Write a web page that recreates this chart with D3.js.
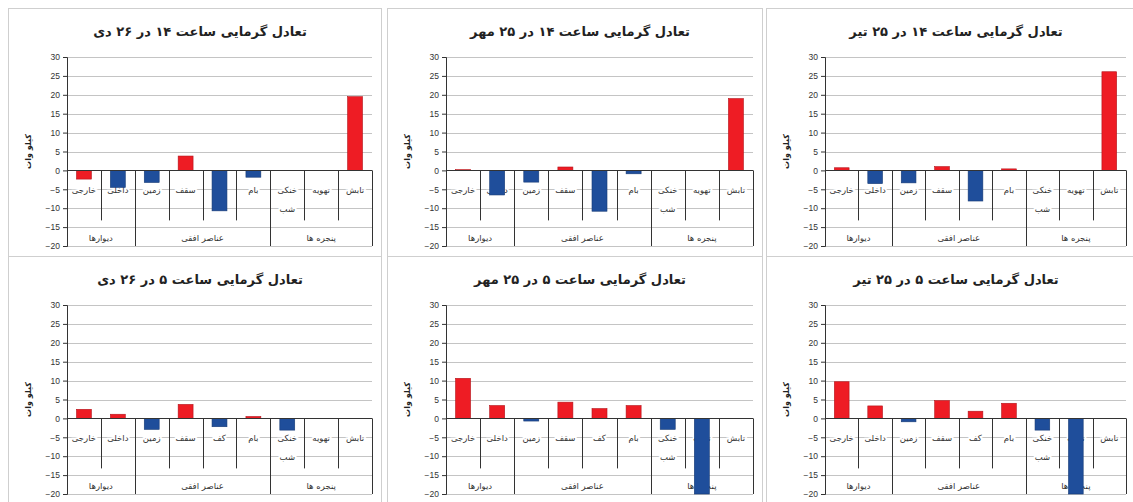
<!DOCTYPE html>
<html>
<head>
<meta charset="utf-8">
<script src="https://cdnjs.cloudflare.com/ajax/libs/d3/7.8.5/d3.min.js"></script>
<style>
  body { margin: 0; background: #fff; }
  svg { display: block; }
</style>
</head>
<body>
<div id="chart"></div>
<script>
// categories, left to right as drawn
const categories = ["خارجی", "داخلی", "زمین", "سقف", "کف", "بام", "خنکی شب", "تهویه", "تابش"];
const groupNames = ["دیوارها", "عناصر افقی", "پنجره ها"];
const groupSizes = [2, 4, 3];
const yTicks = [30, 25, 20, 15, 10, 5, 0, -5, -10, -15, -20];
const yLabel = "کیلو وات";

// panel titles (row by row, left to right)
const titles = [
  "تعادل گرمایی ساعت ۱۴ در ۲۶ دی",
  "تعادل گرمایی ساعت ۱۴ در ۲۵ مهر",
  "تعادل گرمایی ساعت ۱۴ در ۲۵ تیر",
  "تعادل گرمایی ساعت ۵ در ۲۶ دی",
  "تعادل گرمایی ساعت ۵ در ۲۵ مهر",
  "تعادل گرمایی ساعت ۵ در ۲۵ تیر"
];

// values in kW
const dey14  = [-2.3, -4.5, -3.2, 3.8, -10.7, -1.8, 0, 0, 19.5];
const mehr14 = [0.2, -6.5, -3.1, 0.9, -10.8, -0.9, 0, 0, 19.0];
const tir14  = [0.7, -3.5, -3.3, 1.0, -8.1, 0.4, 0, 0, 26.1];
const dey5   = [2.4, 1.1, -2.9, 3.7, -2.2, 0.5, -3.1, 0, 0];
const mehr5  = [10.6, 3.4, -0.7, 4.3, 2.6, 3.4, -2.9, -20, 0];
const tir5   = [9.7, 3.3, -0.9, 4.7, 1.9, 4.0, -3.1, -20, 0];

// g = gain (red), l = loss (blue)
const dey14Kind  = ["g", "l", "l", "g", "l", "l", "g", "g", "g"];
const mehr14Kind = ["g", "l", "l", "g", "l", "l", "g", "g", "g"];
const tir14Kind  = ["g", "l", "l", "g", "l", "g", "g", "g", "g"];
const dey5Kind   = ["g", "g", "l", "g", "l", "g", "l", "g", "g"];
const mehr5Kind  = ["g", "g", "l", "g", "g", "g", "l", "l", "g"];
const tir5Kind   = ["g", "g", "l", "g", "g", "g", "l", "l", "g"];

const series = [dey14, mehr14, tir14, dey5, mehr5, tir5];
const kinds = [dey14Kind, mehr14Kind, tir14Kind, dey5Kind, mehr5Kind, tir5Kind];

const W = 1133, H = 502;
const colX = [8, 387, 766], colW = [374, 376, 370];
const rowY = [8, 256], rowH = 248;
const fill = { g: "#ee1c24", l: "#1f4e9b" };
const edge = { g: "#b3131a", l: "#163a75" };
const fa = "'DejaVu Sans', sans-serif";

const svg = d3.select("#chart").append("svg")
  .attr("width", W).attr("height", H);

series.forEach(function(vals, i) {
  const px = colX[i % 3], pw = colW[i % 3];
  const py = rowY[Math.floor(i / 3)];
  const g = svg.append("g");

  // panel frame
  g.append("rect")
    .attr("x", px + 0.5).attr("y", py + 0.5)
    .attr("width", pw - 1).attr("height", rowH + 10)
    .attr("fill", "#fff").attr("stroke", "#cfcfcf");

  const left = px + 59, right = px + pw - 10;
  const y = d3.scaleLinear().domain([-20, 30]).range([py + 238, py + 49]);
  const x = d3.scaleBand().domain(categories).range([left, right]).paddingInner(0).paddingOuter(0);
  const y0 = y(0);

  // title
  g.append("text")
    .attr("x", px + pw / 2 + 5).attr("y", py + 28)
    .attr("text-anchor", "middle").attr("direction", "rtl")
    .attr("font-family", fa).attr("font-weight", "bold").attr("font-size", 13)
    .attr("fill", "#222")
    .text(titles[i]);

  // gridlines
  g.append("g").selectAll("line").data(yTicks).enter().append("line")
    .attr("x1", left).attr("x2", right)
    .attr("y1", d => Math.round(y(d)) + 0.5).attr("y2", d => Math.round(y(d)) + 0.5)
    .attr("stroke", "#c4c4c4").attr("stroke-width", 1);

  // y axis
  const ya = g.append("g")
    .attr("transform", "translate(" + left + ",0)")
    .call(d3.axisLeft(y).tickValues(yTicks).tickSize(4).tickPadding(3));
  ya.selectAll("text").attr("font-family", "'Liberation Sans', Arial, sans-serif")
    .attr("font-size", 8.5).attr("fill", "#333");
  ya.selectAll("line, path").attr("stroke", "#333");

  // axis title
  g.append("text")
    .attr("transform", "translate(" + (px + 23) + "," + ((y(30) + y(-20)) / 2) + ") rotate(-90)")
    .attr("text-anchor", "middle").attr("direction", "rtl")
    .attr("font-family", fa).attr("font-weight", "bold").attr("font-size", 8)
    .attr("fill", "#222")
    .text(yLabel);

  // category labels
  const lab = g.append("g").selectAll("text").data(categories).enter().append("text")
    .attr("x", d => x(d) + x.bandwidth() / 2)
    .attr("y", y0 + 23)
    .attr("text-anchor", "middle").attr("direction", "rtl")
    .attr("font-family", fa).attr("font-size", 8.5).attr("fill", "#333")
    .attr("stroke", "#fff").attr("stroke-width", 4).attr("paint-order", "stroke");
  lab.each(function(d) {
    const words = d.split(" ");
    const t = d3.select(this);
    if (words.length > 1) {
      t.append("tspan").attr("x", x(d) + x.bandwidth() / 2).attr("dy", 0).text(words[0]);
      t.append("tspan").attr("x", x(d) + x.bandwidth() / 2).attr("dy", 19).text(words.slice(1).join(" "));
    } else {
      t.text(d);
    }
  });

  // group labels and dividers
  let start = 0;
  const bounds = [0];
  groupSizes.forEach(function(n, k) {
    const a = x(categories[start]);
    const b = x(categories[start + n - 1]) + x.bandwidth();
    g.append("text")
      .attr("x", (a + b) / 2).attr("y", y(-20) - 5)
      .attr("text-anchor", "middle").attr("direction", "rtl")
      .attr("font-family", fa).attr("font-size", 8.5).attr("fill", "#333")
      .attr("stroke", "#fff").attr("stroke-width", 4).attr("paint-order", "stroke")
      .text(groupNames[k]);
    start += n;
    bounds.push(start);
  });

  // short dividers between categories
  const inner = d3.range(1, categories.length).filter(k => bounds.indexOf(k) < 0);
  g.append("g").selectAll("line").data(inner).enter().append("line")
    .attr("x1", k => Math.round(x(categories[k])) + 0.5)
    .attr("x2", k => Math.round(x(categories[k])) + 0.5)
    .attr("y1", y0).attr("y2", y0 + 50)
    .attr("stroke", "#333").attr("stroke-width", 1);

  // long dividers at group bounds
  g.append("g").selectAll("line").data(bounds.slice(1)).enter().append("line")
    .attr("x1", k => Math.round(k < categories.length ? x(categories[k]) : right) + 0.5)
    .attr("x2", k => Math.round(k < categories.length ? x(categories[k]) : right) + 0.5)
    .attr("y1", y0).attr("y2", y(-20))
    .attr("stroke", "#333").attr("stroke-width", 1);

  // bars
  const bw = x.bandwidth() * 0.44;
  g.append("g").selectAll("rect").data(vals).enter().append("rect")
    .attr("x", (d, k) => x(categories[k]) + (x.bandwidth() - bw) / 2)
    .attr("y", d => y(Math.max(0, d)))
    .attr("width", bw)
    .attr("height", d => Math.abs(y(d) - y0))
    .attr("fill", (d, k) => fill[kinds[i][k]])
    .attr("stroke", (d, k) => d === 0 ? "none" : edge[kinds[i][k]])
    .attr("stroke-width", 0.6);

  // category axis line at zero
  g.append("line")
    .attr("x1", left).attr("x2", right)
    .attr("y1", Math.round(y0) + 0.5).attr("y2", Math.round(y0) + 0.5)
    .attr("stroke", "#333").attr("stroke-width", 1);
});
</script>
</body>
</html>
